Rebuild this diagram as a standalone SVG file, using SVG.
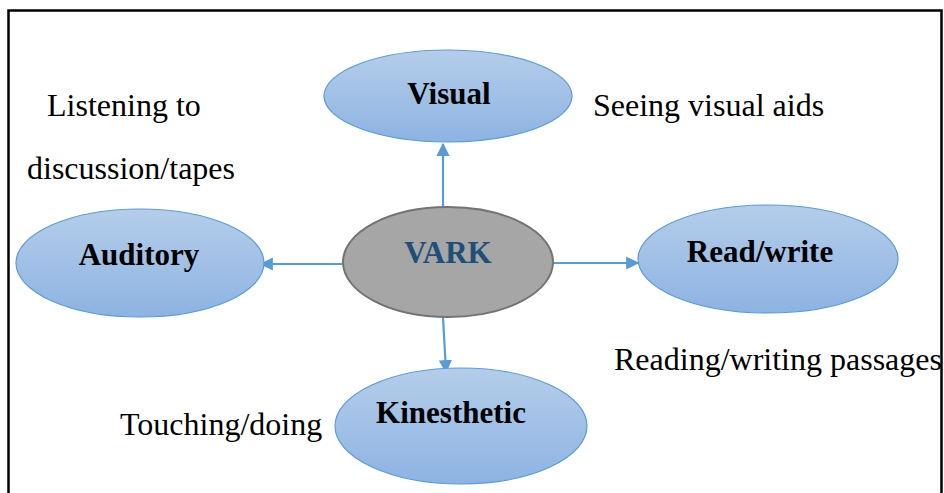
<svg xmlns="http://www.w3.org/2000/svg" width="944" height="493" viewBox="0 0 944 493">
<defs>
<linearGradient id="blue" x1="0" y1="0" x2="0" y2="1">
<stop offset="0" stop-color="#b5cdea"/>
<stop offset="1" stop-color="#8db3e2"/>
</linearGradient>
<marker id="arr" viewBox="0 0 10 10" refX="9" refY="5" markerWidth="6" markerHeight="6" orient="auto" markerUnits="strokeWidth">
<path d="M0,0 L10,5 L0,10 z" fill="#5b9bd5"/>
</marker>
<style>
.node{fill:url(#blue);stroke:#5b9bd5;stroke-width:1.2}
.lbl{font-family:"Liberation Serif","Times New Roman",serif;font-size:31px;font-weight:bold;fill:#000;text-anchor:middle}
.txt{font-family:"Liberation Serif","Times New Roman",serif;font-size:32px;fill:#000}
.conn{stroke:#5b9bd5;stroke-width:2.2;fill:none;marker-end:url(#arr)}
</style>
</defs>
<rect x="0" y="0" width="944" height="493" fill="#fff"/>
<rect x="8.5" y="10.5" width="933" height="500" fill="none" stroke="#000" stroke-width="2.5"/>
<g id="connectors">
<line class="conn" x1="443" y1="207" x2="443" y2="144"/>
<line class="conn" x1="343" y1="264" x2="261" y2="264"/>
<line class="conn" x1="553" y1="263" x2="638" y2="263"/>
<line class="conn" x1="443" y1="317" x2="446" y2="372"/>
</g>
<g id="visual">
<ellipse class="node" cx="448" cy="96" rx="124" ry="46"/>
<text class="lbl" x="449" y="104">Visual</text>
</g>
<g id="vark">
<ellipse cx="448" cy="262" rx="105" ry="55" fill="#a6a6a6" stroke="#737373" stroke-width="2"/>
<text class="lbl" x="448" y="263" style="fill:#1f4e79">VARK</text>
</g>
<g id="auditory">
<ellipse class="node" cx="140" cy="263" rx="124" ry="54"/>
<text class="lbl" x="139" y="265">Auditory</text>
</g>
<g id="readwrite">
<ellipse class="node" cx="768" cy="259" rx="130" ry="54"/>
<text class="lbl" x="760" y="262">Read/write</text>
</g>
<g id="kinesthetic">
<ellipse class="node" cx="461" cy="426" rx="126" ry="58"/>
<text class="lbl" x="451" y="423">Kinesthetic</text>
</g>
<g id="notes">
<text class="txt" x="47" y="116">Listening to</text>
<text class="txt" x="27" y="179">discussion/tapes</text>
<text class="txt" x="593" y="116">Seeing visual aids</text>
<text class="txt" x="614" y="370">Reading/writing passages</text>
<text class="txt" x="120" y="435">Touching/doing</text>
</g>
</svg>
